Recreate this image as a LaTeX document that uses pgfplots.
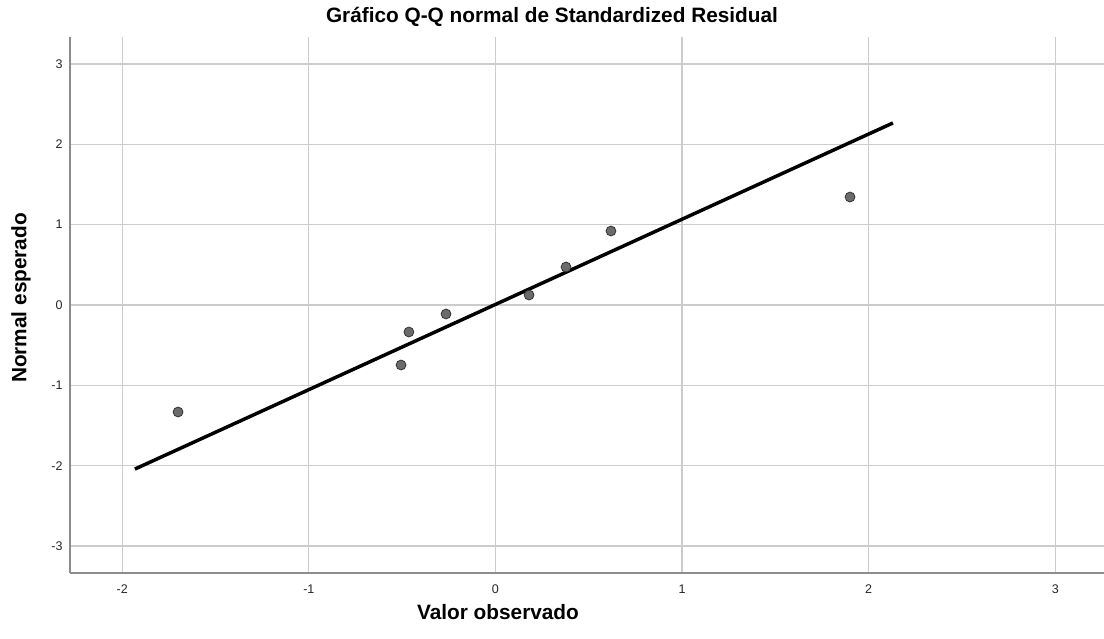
\documentclass[border=0pt]{standalone}
\usepackage{fontspec}
\setmainfont{Liberation Sans}
\usepackage{pgfplots}
\pgfplotsset{compat=1.18}

\begin{document}
\begin{tikzpicture}
  % fix the page to the reference's proportions (1px = 0.75pt)
  \path[use as bounding box] (-52.5pt,-49.5pt) rectangle (775.5pt,429.75pt);
  \begin{axis}[
      at={(0pt,0pt)}, anchor=south west,
      scale only axis,
      width=775.5pt, height=402pt,
      xmin=-2.280, xmax=3.261,
      ymin=-3.336, ymax=3.336,
      xtick={-2,-1,0,1,2,3},
      ytick={-3,-2,-1,0,1,2,3},
      axis x line=bottom, axis y line=left,
      axis line style={-, draw=black!45, line width=1.1pt},
      major tick length=0pt,
      grid=major,
      major grid style={draw=black!20, line width=0.9pt},
      /pgf/number format/assume math mode=true,
      tick label style={font=\fontsize{9.4}{11}\selectfont, text=black!85},
      xticklabel style={anchor=center, yshift=-12pt},
      yticklabel style={anchor=east, xshift=-2pt},
      clip=false,
  ]
    % observed vs expected normal scores
    \addplot[only marks, mark=*, mark size=3.7pt,
             mark options={fill=black!58, draw=black!80, line width=0.6pt}]
      coordinates {
        (-1.701,-1.332) (-0.506,-0.747) (-0.464,-0.336) (-0.265,-0.112)
        (0.180,0.124) (0.378,0.473) (0.619,0.921) (1.900,1.344)
      };
    % reference line
    \addplot[black, line width=2.6pt] coordinates {(-1.932,-2.042) (2.130,2.266)};
  \end{axis}
  \node[font=\fontsize{15.6}{18}\selectfont\bfseries] at (361.5pt,417pt)
    {Gráfico Q-Q normal de Standardized Residual};
  \node[font=\fontsize{15.6}{18}\selectfont\bfseries] at (321pt,-29.25pt)
    {Valor observado};
  \node[font=\fontsize{15.6}{18}\selectfont\bfseries, rotate=90] at (-36.75pt,206.25pt)
    {Normal esperado};
\end{tikzpicture}
\end{document}
